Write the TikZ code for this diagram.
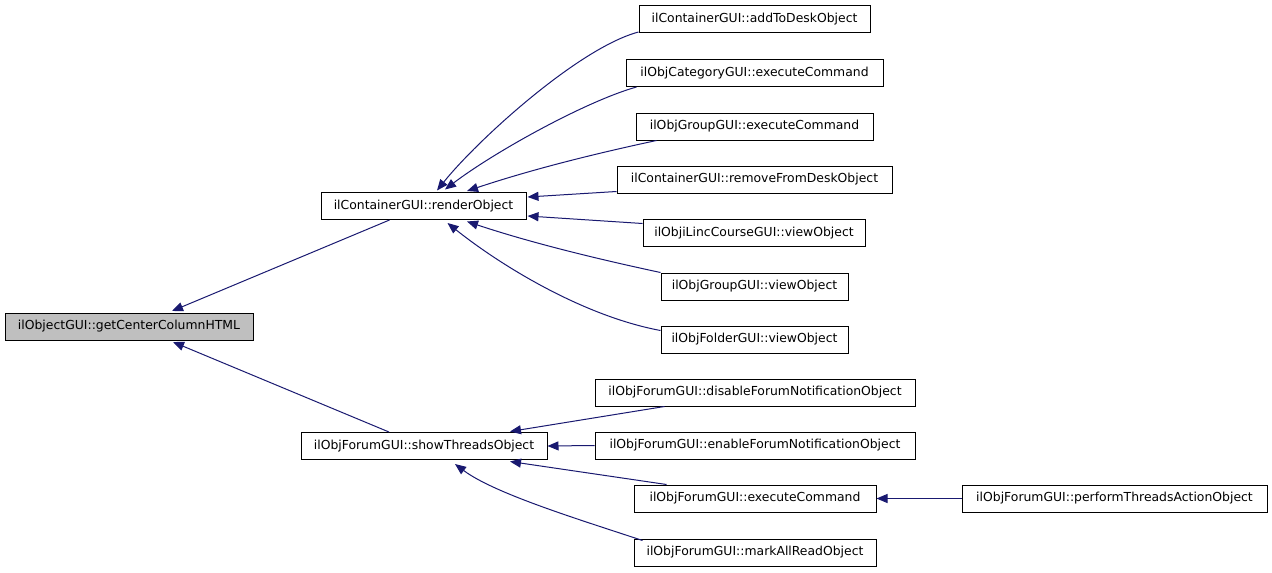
\documentclass[tikz,border=0pt]{standalone}
\usepackage{fontspec}
\setmainfont{DejaVu Sans}
\usetikzlibrary{arrows.meta}
\definecolor{edgecol}{HTML}{191970}
\definecolor{mainfill}{HTML}{BFBFBF}
\begin{document}
\begin{tikzpicture}[x=1pt,y=-1pt,
  box/.style={draw=black, line width=1pt, fill=white, inner sep=0pt, minimum height=27pt, font=\fontsize{12.4}{14}\selectfont},
  edge/.style={draw=edgecol, line width=1pt, -{Triangle[length=11pt,width=9pt]}}]
\useasboundingbox (0,0) rectangle (1272,573);
\node[box, fill=mainfill, minimum width=248pt] (main) at (129,326.5) {ilObjectGUI::getCenterColumnHTML};
\node[box, minimum width=205pt] (render) at (423.5,206) {ilContainerGUI::renderObject};
\node[box, minimum width=246pt] (show) at (424,446) {ilObjForumGUI::showThreadsObject};
\node[box, minimum width=231pt] (add) at (754.5,19) {ilContainerGUI::addToDeskObject};
\node[box, minimum width=257pt] (cat) at (754.5,73) {ilObjCategoryGUI::executeCommand};
\node[box, minimum width=237pt] (gexec) at (754.5,126.5) {ilObjGroupGUI::executeCommand};
\node[box, minimum width=275pt] (remove) at (754.5,179.5) {ilContainerGUI::removeFromDeskObject};
\node[box, minimum width=222pt] (ilinc) at (754,233) {ilObjiLincCourseGUI::viewObject};
\node[box, minimum width=187pt] (gview) at (754.5,286.5) {ilObjGroupGUI::viewObject};
\node[box, minimum width=187pt] (folder) at (754.5,339.5) {ilObjFolderGUI::viewObject};
\node[box, minimum width=320pt] (disable) at (755,392.5) {ilObjForumGUI::disableForumNotificationObject};
\node[box, minimum width=320pt] (enable) at (755,445.5) {ilObjForumGUI::enableForumNotificationObject};
\node[box, minimum width=242pt] (fexec) at (755,498.5) {ilObjForumGUI::executeCommand};
\node[box, minimum width=242pt] (mark) at (755,552.5) {ilObjForumGUI::markAllReadObject};
\node[box, minimum width=305pt] (perform) at (1114.5,498.5) {ilObjForumGUI::performThreadsActionObject};
% edges to main
\draw[edge] ([xshift=-34pt]render.south) -- ([xshift=43pt,yshift=1.5pt]main.north);
\draw[edge] ([xshift=-35pt]show.north) -- ([xshift=44pt,yshift=-1.5pt]main.south);
% edges to render
\draw[edge] ([yshift=1pt]add.south west) .. controls +(-60,16) and +(40,-50) .. ([xshift=13.5pt,yshift=1.5pt]render.north);
\draw[edge] ([xshift=11pt]cat.south west) .. controls +(-50,14) and +(50,-38) .. ([xshift=21.5pt,yshift=2.5pt]render.north);
\draw[edge] ([xshift=21pt]gexec.south west) .. controls +(-70,15) and +(60,-20) .. ([xshift=43.5pt,yshift=1pt]render.north);
\draw[edge] ([yshift=2pt]remove.south west) -- ([xshift=1pt,yshift=9pt]render.east);
\draw[edge] ([yshift=-4.5pt]ilinc.north west) -- ([xshift=1pt,yshift=-10pt]render.east);
\draw[edge] (gview.north west) .. controls +(-70,-15) and +(60,20) .. ([xshift=43.5pt,yshift=-1.5pt]render.south);
\draw[edge] ([yshift=-5pt]folder.north west) .. controls +(-80,-15) and +(50,40) .. ([xshift=24pt,yshift=-3pt]render.south);
% edges to show
\draw[edge] ([xshift=70pt]disable.south west) -- ([xshift=86pt,yshift=0.5pt]show.north);
\draw[edge] (enable.west) -- (show.east);
\draw[edge] ([xshift=33pt]fexec.north west) -- ([xshift=86pt,yshift=-1.5pt]show.south);
\draw[edge] ([xshift=9pt,yshift=-2pt]mark.north west) .. controls +(-60,-20) and +(40,30) .. ([xshift=31pt,yshift=-4pt]show.south);
% edge to fexec
\draw[edge] (perform.west) -- (fexec.east);
\end{tikzpicture}
\end{document}
